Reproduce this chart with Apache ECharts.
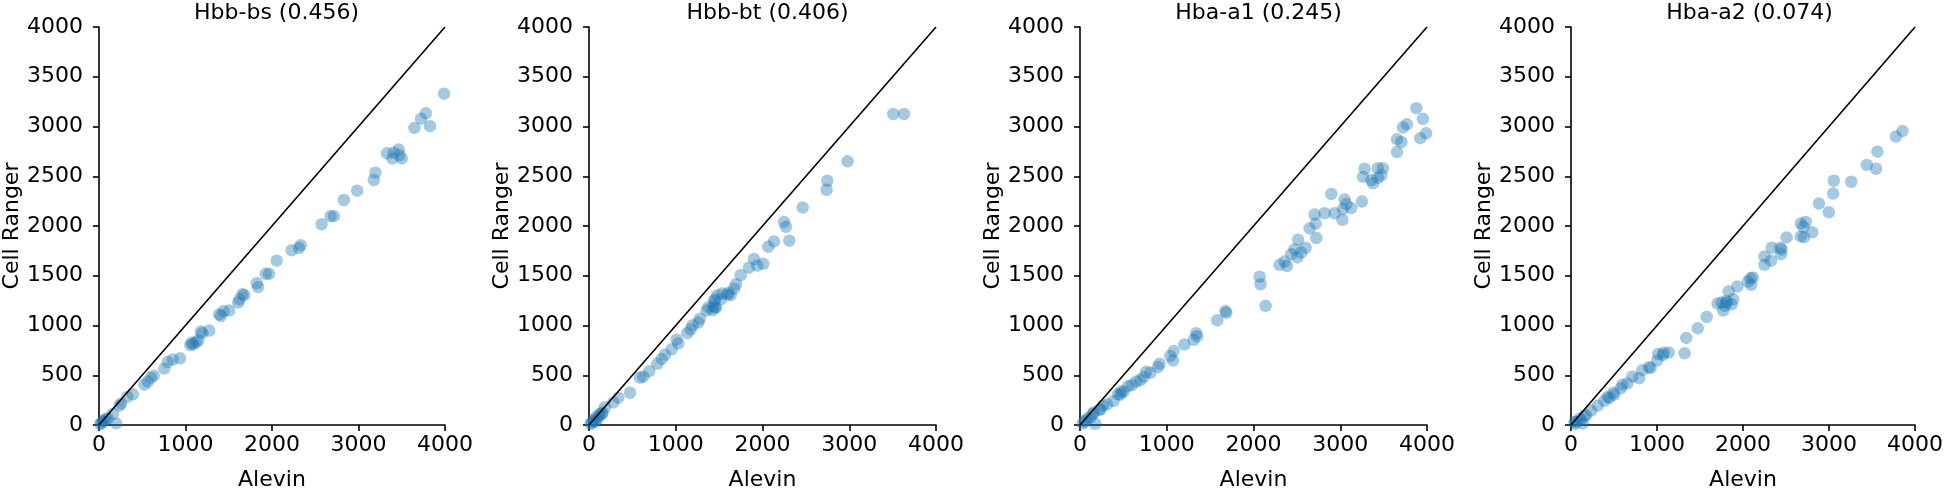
<!DOCTYPE html>
<html>
<head>
<meta charset="utf-8">
<script src="https://cdn.jsdelivr.net/npm/echarts@6/dist/echarts.min.js"></script>
<style>
html,body{margin:0;padding:0;background:#fff;}
#chart{width:1946px;height:496px;}
</style>
</head>
<body>
<div id="chart"></div>
<script>
// ---- data ----
const panelTitles = ['Hbb-bs (0.456)', 'Hbb-bt (0.406)', 'Hba-a1 (0.245)', 'Hba-a2 (0.074)'];
const xAxisName = 'Alevin';
const yAxisName = 'Cell Ranger';
const axisRange = [0, 4000];
const diagonal = [[0, 0], [4000, 4000]];

const hbbBs = [
  [3990,3330],[3723,3077],[3780,3132],[3646,2986],[3827,3003],
  [3331,2731],[3408,2737],[3465,2769],[3473,2711],[3392,2679],[3500,2679],
  [3177,2462],[3196,2536],[2985,2355],[2832,2261],[2678,2099],[2716,2099],[2574,2018],
  [2313,1778],[2332,1807],[2228,1756],[2055,1652],[1929,1519],[1967,1519],[1825,1425],[1840,1386],
  [1660,1315],[1679,1305],[1610,1231],[1625,1263],[1506,1150],[1441,1143],[1410,1095],[1391,1111],
  [1276,949],[1180,939],[1195,923],[1149,852],[1122,832],[1072,826],[1091,810],[1057,803],
  [938,670],[853,658],[795,632],[757,567],[634,496],[603,476],[526,405],[565,437],
  [392,308],[327,282],[257,217],[238,194],[161,113],[104,65],[200,16],[46,32],[19,10],[60,45],[30,20],[80,60]
];
const hbbBt = [
  [3508,3126],[3631,3126],[2981,2650],[2747,2455],[2739,2364],[2463,2186],[2248,2041],[2271,1992],
  [2309,1853],[2132,1843],[2067,1791],[1902,1668],[1844,1581],[1940,1603],[2009,1620],[1748,1506],
  [1695,1415],[1672,1370],[1606,1328],[1633,1305],[1537,1322],[1479,1305],[1452,1263],[1433,1198],
  [1375,1182],[1356,1150],[1452,1182],[1464,1181],[1425,1155],[1521,1263],[1599,1311],[1444,1246],
  [1279,1069],[1260,1030],[1195,1003],[1172,962],[1133,923],[1030,819],[1010,858],[953,761],
  [876,706],[838,664],[788,615],[695,541],[626,486],[588,476],[473,324],[338,275],[280,227],
  [184,178],[127,113],[88,81],[50,49],[31,23],[69,32],[157,126],[119,94],[100,60],[150,110],[60,40],[20,10]
];
const hbaA1 = [
  [3877,3184],[3953,3077],[3990,2931],[3923,2883],[3769,3022],[3723,2990],[3654,2873],[3704,2844],
  [3654,2743],[3492,2581],[3434,2581],[3473,2510],[3434,2484],[3358,2462],[3377,2429],[3281,2575],
  [3262,2494],[3250,2245],[3127,2180],[3050,2267],[3070,2219],[3031,2170],[3024,2063],[2897,2322],
  [2935,2128],[2820,2128],[2705,2115],[2716,2024],[2647,1976],[2724,1879],[2601,1781],[2513,1862],
  [2551,1733],[2505,1684],[2474,1765],[2436,1717],[2386,1597],[2359,1642],[2301,1610],[2071,1490],
  [2082,1415],[2140,1198],[1687,1127],[1676,1145],[1583,1053],[1341,922],[1310,856],[1349,890],
  [1203,808],[1080,743],[1072,648],[1041,694],[918,615],[899,583],[811,525],[765,534],[734,483],
  [695,451],[649,437],[599,402],[553,389],[503,337],[465,305],[476,334],[438,308],[388,240],
  [311,208],[265,194],[234,159],[227,152],[157,126],[150,113],[119,78],[92,65],[61,45],[54,32],[176,13],[30,15]
];
const hbaA2 = [
  [3854,2954],[3778,2899],[3563,2747],[3547,2575],[3440,2614],[3259,2445],[3056,2455],[3048,2326],
  [2998,2138],[2883,2225],[2806,1937],[2730,2041],[2672,2024],[2703,1992],[2672,1895],[2710,1888],
  [2507,1885],[2449,1765],[2442,1717],[2434,1781],[2334,1781],[2326,1652],[2250,1694],[2250,1610],
  [2115,1483],[2096,1409],[2058,1441],[2088,1474],[1935,1393],[1835,1344],[1885,1263],[1808,1247],
  [1751,1231],[1789,1198],[1770,1150],[1705,1221],[1810,1229],[1867,1213],[1578,1085],[1474,972],
  [1340,875],[1321,722],[1136,729],[1067,703],[1014,713],[1080,726],[1002,648],[925,573],[907,581],
  [829,551],[791,470],[714,486],[657,418],[599,405],[580,370],[503,305],[491,324],[446,272],
  [426,282],[388,243],[311,194],[234,146],[177,97],[157,94],[119,49],[100,62],[61,32],[42,30],[138,16],[50,10]
];
const panelData = [hbbBs, hbbBt, hbaA1, hbaA2];

// ---- layout / style ----
const FONT = 'DejaVu Sans';
const FS = 22;
const lefts = [98, 589, 1080, 1571];
const plotW = 347, plotTop = 27, plotH = 411;

const grid = [], xAxis = [], yAxis = [], title = [], series = [];
const axisLineStyle = { show: true, lineStyle: { color: '#000', width: 1.6 } };
const axisTick = { show: true, inside: false, length: 6, lineStyle: { color: '#000', width: 1.6 } };
const plain = v => String(v);

panelData.forEach((pts, i) => {
  grid.push({ left: lefts[i], top: plotTop, width: plotW, height: plotH, containLabel: false });
  xAxis.push({
    type: 'value', gridIndex: i, min: axisRange[0], max: axisRange[1], interval: 1000,
    axisLine: axisLineStyle, axisTick: axisTick, splitLine: { show: false },
    axisLabel: { color: '#000', fontSize: FS, fontFamily: FONT, margin: 9, showMaxLabel: true, formatter: plain },
    name: xAxisName, nameLocation: 'middle', nameGap: 44,
    nameTextStyle: { color: '#000', fontSize: FS, fontFamily: FONT }
  });
  yAxis.push({
    type: 'value', gridIndex: i, min: axisRange[0], max: axisRange[1], interval: 500,
    axisLine: axisLineStyle, axisTick: axisTick, splitLine: { show: false },
    axisLabel: { color: '#000', fontSize: FS, fontFamily: FONT, margin: 16, formatter: plain },
    name: yAxisName, nameLocation: 'middle', nameGap: 70, nameRotate: 90,
    nameTextStyle: { color: '#000', fontSize: FS, fontFamily: FONT }
  });
  title.push({
    text: panelTitles[i], left: lefts[i] + plotW / 2, top: -3, textAlign: 'center',
    textStyle: { color: '#000', fontSize: FS, fontWeight: 'normal', fontFamily: FONT }
  });
  series.push({
    type: 'line', xAxisIndex: i, yAxisIndex: i, data: diagonal, symbol: 'none',
    lineStyle: { color: '#000', width: 1.6 }, silent: true, z: 3, animation: false
  });
  series.push({
    type: 'scatter', xAxisIndex: i, yAxisIndex: i, data: pts, symbolSize: 12.5,
    itemStyle: { color: '#1f77b4', opacity: 0.4, borderWidth: 0 }, clip: true, z: 2, animation: false
  });
});

const chart = echarts.init(document.getElementById('chart'), null, { renderer: 'canvas' });
chart.setOption({ animation: false, backgroundColor: '#fff', grid, xAxis, yAxis, title, series });
</script>
</body>
</html>
